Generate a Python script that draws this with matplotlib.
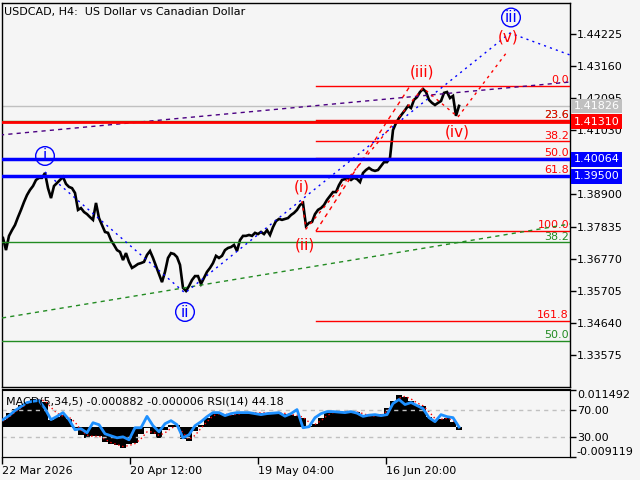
import matplotlib
matplotlib.use('Agg')
import matplotlib.pyplot as plt
import matplotlib.transforms as mtransforms
import numpy as np

plt.rcParams['font.family'] = 'DejaVu Sans'

title = 'USDCAD, H4:  US Dollar vs Canadian Dollar'
bg = '#f5f5f5'

# H4 closes, one value every 3 bars
closes = [1.3746, 1.3706, 1.3753, 1.3772, 1.3789, 1.3815, 1.3839, 1.3865, 1.3888, 1.3905,
          1.3918, 1.3938, 1.3945, 1.3945, 1.3961, 1.3911, 1.3878, 1.3918, 1.3928, 1.3938,
          1.3948, 1.3925, 1.3915, 1.3911, 1.3895, 1.3839, 1.3845, 1.3832, 1.3825, 1.3815,
          1.3806, 1.3862, 1.3812, 1.3789, 1.3766, 1.3763, 1.3739, 1.3723, 1.3706, 1.3700,
          1.3673, 1.3696, 1.3667, 1.3647, 1.3653, 1.3660, 1.3663, 1.3667, 1.3690, 1.3703,
          1.3680, 1.3653, 1.3627, 1.3600, 1.3634, 1.3680, 1.3696, 1.3693, 1.3683, 1.3657,
          1.3581, 1.3571, 1.3587, 1.3607, 1.3620, 1.3620, 1.3594, 1.3614, 1.3634, 1.3647,
          1.3663, 1.3687, 1.3680, 1.3687, 1.3706, 1.3713, 1.3716, 1.3723, 1.3703, 1.3739,
          1.3753, 1.3753, 1.3756, 1.3753, 1.3763, 1.3759, 1.3766, 1.3759, 1.3772, 1.3756,
          1.3782, 1.3802, 1.3809, 1.3806, 1.3809, 1.3812, 1.3822, 1.3829, 1.3839, 1.3855,
          1.3862, 1.3786, 1.3796, 1.3799, 1.3825, 1.3839, 1.3845, 1.3855, 1.3872, 1.3885,
          1.3898, 1.3898, 1.3921, 1.3938, 1.3941, 1.3945, 1.3938, 1.3945, 1.3941, 1.3931,
          1.3961, 1.3971, 1.3978, 1.3971, 1.3968, 1.3971, 1.3984, 1.3997, 1.3997, 1.4011,
          1.4103, 1.4126, 1.4143, 1.4156, 1.4169, 1.4183, 1.4176, 1.4203, 1.4212, 1.4229,
          1.4239, 1.4229, 1.4203, 1.4193, 1.4186, 1.4193, 1.4199, 1.4226, 1.4229, 1.4209,
          1.4216, 1.4150, 1.4183]
close_bars = np.arange(len(closes)) * 3 + 1

# indicator window, one value every 6 bars
macd = [0.00216, 0.00433, 0.00556, 0.00680, 0.00773, 0.00865, 0.00834, 0.00773, 0.00216, 0.00309,
        0.00355, 0.00247, -0.00030, -0.00247, -0.00325, -0.00278, -0.00278, -0.00464, -0.00510, -0.00556,
        -0.00649, -0.00510, -0.00494, -0.00216, -0.00030, -0.00201, -0.00325, -0.00093, 0.00046, 0.00062,
        -0.00371, -0.00433, -0.00124, 0.00062, 0.00278, 0.00433, 0.00402, 0.00371, 0.00371, 0.00402,
        0.00433, 0.00433, 0.00433, 0.00433, 0.00433, 0.00433, 0.00433, 0.00402, 0.00371, 0.00340,
        0.00278, 0.00031, 0.00093, 0.00278, 0.00433, 0.00448, 0.00464, 0.00473, 0.00473, 0.00448,
        0.00371, 0.00325, 0.00340, 0.00386, 0.00587, 0.00803, 0.00973, 0.00927, 0.00803, 0.00680,
        0.00634, 0.00318, 0.00216, 0.00247, 0.00278, 0.00164, -0.00088]
signal = [0.00180, 0.00300, 0.00450, 0.00590, 0.00700, 0.00790, 0.00840, 0.00800, 0.00600, 0.00420,
          0.00330, 0.00300, 0.00150, -0.00100, -0.00250, -0.00290, -0.00280, -0.00380, -0.00480, -0.00540,
          -0.00600, -0.00570, -0.00510, -0.00360, -0.00150, -0.00150, -0.00260, -0.00180, -0.00040, 0.00040,
          -0.00180, -0.00380, -0.00260, -0.00040, 0.00160, 0.00340, 0.00410, 0.00390, 0.00370, 0.00390,
          0.00420, 0.00430, 0.00433, 0.00433, 0.00433, 0.00433, 0.00433, 0.00415, 0.00385, 0.00355,
          0.00300, 0.00150, 0.00080, 0.00190, 0.00350, 0.00440, 0.00455, 0.00468, 0.00473, 0.00460,
          0.00410, 0.00350, 0.00335, 0.00360, 0.00480, 0.00700, 0.00880, 0.00940, 0.00860, 0.00740,
          0.00650, 0.00470, 0.00260, 0.00235, 0.00265, 0.00210, -0.00001]
rsi = [55.1, 61.1, 68.6, 74.6, 80.6, 82.5, 83.6, 71.6, 55.1, 60.0,
       65.6, 55.1, 40.1, 41.6, 35.6, 50.6, 47.6, 34.1, 31.1, 28.1,
       29.6, 25.1, 43.1, 43.1, 60.0, 46.1, 37.1, 49.1, 53.6, 47.6,
       28.1, 32.6, 46.1, 52.1, 59.6, 65.6, 65.6, 61.1, 64.1, 65.6,
       65.6, 65.6, 64.1, 62.6, 64.1, 64.8, 65.6, 60.3, 64.1, 70.1,
       43.1, 44.6, 58.1, 64.1, 67.1, 67.1, 66.3, 65.6, 67.1, 64.8,
       60.0, 61.8, 62.6, 61.1, 62.6, 79.1, 85.1, 77.6, 80.6, 76.1,
       71.6, 58.1, 52.1, 62.6, 59.6, 58.1, 44.18]
ind_bars = np.arange(len(macd)) * 6 + 1

price_ticks = [1.44225, 1.43160, 1.42095, 1.41030, 1.39965, 1.38900,
               1.37835, 1.36770, 1.35705, 1.34640, 1.33575]
date_ticks = [0, 128, 256, 384]
date_labels = ['22 Mar 2026', '20 Apr 12:00', '19 May 04:00', '16 Jun 20:00']

# fibonacci grids
fib_levels = [0.0, 23.6, 38.2, 50.0, 61.8, 100.0, 161.8]
red_fib_hi, red_fib_lo = 1.42488, 1.37692
red_fib_start = 314
red_fib_end = 408
green_levels = [0.0, 23.6, 38.2, 50.0, 61.8, 100.0]
green_fib_hi, green_fib_lo = 1.4784, 1.2029

# horizontal levels with price boxes
bid = 1.41826
red_level = 1.41310
blue_levels = [1.40064, 1.39500]

# wave lines
purple_x, purple_y = [-2, 568], [1.40867, 1.42620]
green_tl_x, green_tl_y = [0, 568], [1.34814, 1.37923]
blue_wave_x = [43, 183, 508, 568]
blue_wave_y = [1.39643, 1.35641, 1.44241, 1.43514]
red_wave_x = [300, 304, 421, 456, 505]
red_wave_y = [1.38684, 1.37758, 1.42422, 1.41463, 1.43613]

fig = plt.figure(figsize=(6.4, 4.8), dpi=100, facecolor=bg)
ax = fig.add_axes([2/640, 93/480, 568/640, 384/480], facecolor=bg)
ax.set_xlim(0, 568)
ax.set_ylim(1.32531, 1.45234)

ax.plot(close_bars, closes, color='black', lw=1.9, zorder=2, solid_joinstyle='miter')

ax.axhline(bid, color='#c0c0c0', lw=1, zorder=1)

for lv in green_levels:
    p = green_fib_hi - lv / 100 * (green_fib_hi - green_fib_lo)
    ax.axhline(p, color='#228b22', lw=1, zorder=3)
    ax.annotate('%.1f' % lv, (567, p), xytext=(0, 0.5), textcoords='offset points',
                ha='right', va='bottom', color='#228b22', fontsize=8, annotation_clip=True)

for lv in fib_levels:
    p = red_fib_hi - lv / 100 * (red_fib_hi - red_fib_lo)
    ax.plot([red_fib_start, 568], [p, p], color='red', lw=1, zorder=3)
    ax.annotate('%.1f' % lv, (567, p), xytext=(0, 0.5), textcoords='offset points',
                ha='right', va='bottom', color='red', fontsize=8, annotation_clip=True)
ax.plot([red_fib_start, red_fib_end], [red_fib_lo, red_fib_hi], color='red', lw=1,
        ls=(0, (3, 3)), zorder=3)

ax.axhline(red_level, color='red', lw=2, zorder=4)
for p in blue_levels:
    ax.axhline(p, color='blue', lw=2.5, zorder=4)

ax.plot(purple_x, purple_y, color='#4b0082', lw=1, ls=(0, (3, 3)), zorder=3)
ax.plot(green_tl_x, green_tl_y, color='#228b22', lw=1, ls=(0, (3, 3)), zorder=3)
ax.plot(blue_wave_x, blue_wave_y, color='blue', lw=1, ls=(0, (1.5, 3)), zorder=3)
ax.plot(red_wave_x, red_wave_y, color='red', lw=1, ls=(0, (2, 3)), zorder=3)

circ = dict(boxstyle='circle,pad=0.12', fc='none', ec='blue', lw=1)
for txt, x, y in [('i', 43, 1.40173), ('ii', 183, 1.35012), ('iii', 509, 1.44754)]:
    ax.text(x, y, txt, color='blue', fontsize=11, ha='center', va='center', bbox=circ, zorder=6)
for txt, x, y in [('(i)', 300, 1.39147), ('(ii)', 303, 1.37228), ('(iii)', 420, 1.42951),
                  ('(iv)', 455, 1.40966), ('(v)', 506, 1.44109)]:
    ax.text(x, y, txt, color='red', fontsize=11, ha='center', va='center', zorder=6)

ax.yaxis.tick_right()
ax.set_yticks(price_ticks)
ax.set_yticklabels(['%.5f' % t for t in price_ticks])
ax.tick_params(axis='y', length=4, width=1, pad=1, labelsize=8, colors='black')
ax.set_xticks([])
for s in ax.spines.values():
    s.set_linewidth(1)

trans = mtransforms.blended_transform_factory(ax.transAxes, ax.transData)
for p, c in [(bid, '#c0c0c0'), (red_level, 'red'), (blue_levels[0], 'blue'), (blue_levels[1], 'blue')]:
    ax.text(1.0065, p, '%.5f' % p, transform=trans, ha='left', va='center', color='white',
            fontsize=8, zorder=10, clip_on=False,
            bbox=dict(boxstyle='square,pad=0.22', fc=c, ec='none'))

fig.text(4/640, 1 - 12/480, title, fontsize=8, va='center', ha='left')

# indicator window
ax2 = fig.add_axes([2/640, 23.3/480, 568/640, 67.2/480], facecolor=bg)
ax2.set_xlim(0, 568)
ax2.set_ylim(-0.009119, 0.011492)
ax2.bar(ind_bars, macd, width=6, color='black', zorder=2)
ax2.plot(ind_bars, signal, color='red', lw=1, ls=(0, (1, 2)), zorder=3)
ax2.set_xticks(date_ticks)
ax2.set_xticklabels(date_labels, ha='left')
ax2.tick_params(axis='x', length=5, width=1, pad=2, labelsize=8)

ax3 = ax2.twinx()
ax3.set_ylim(0, 100)
ax3.axhline(70, color='#c0c0c0', lw=1, ls=(0, (3, 3)), zorder=1)
ax3.axhline(30, color='#c0c0c0', lw=1, ls=(0, (3, 3)), zorder=1)
ax3.plot(ind_bars, rsi, color='#1e90ff', lw=2, zorder=4)
ax3.set_yticks([70, 30])
ax3.set_yticklabels(['70.00', '30.00'])
ax3.tick_params(axis='y', length=4, width=1, pad=1, labelsize=8)
ax3.text(0.007, 0.9, 'MACD(5,34,5) -0.000882 -0.000006 RSI(14) 44.18', transform=ax3.transAxes,
         fontsize=8, va='top', ha='left', zorder=8)

# MACD scale labels on the right, after twinx moved them
ax2.yaxis.tick_right()
ax2.yaxis.set_label_position('right')
ax2.set_yticks([0.011492, -0.009119])
ax2.set_yticklabels(['0.011492', '-0.009119'])
ax2.tick_params(axis='y', which='both', left=False, right=True, labelleft=False, labelright=True,
                length=4, width=1, pad=1, labelsize=8)
tl = ax2.get_yticklabels()
tl[0].set_va('top')
tl[1].set_va('bottom')

fig.savefig('out.png', dpi=100, facecolor=bg)
